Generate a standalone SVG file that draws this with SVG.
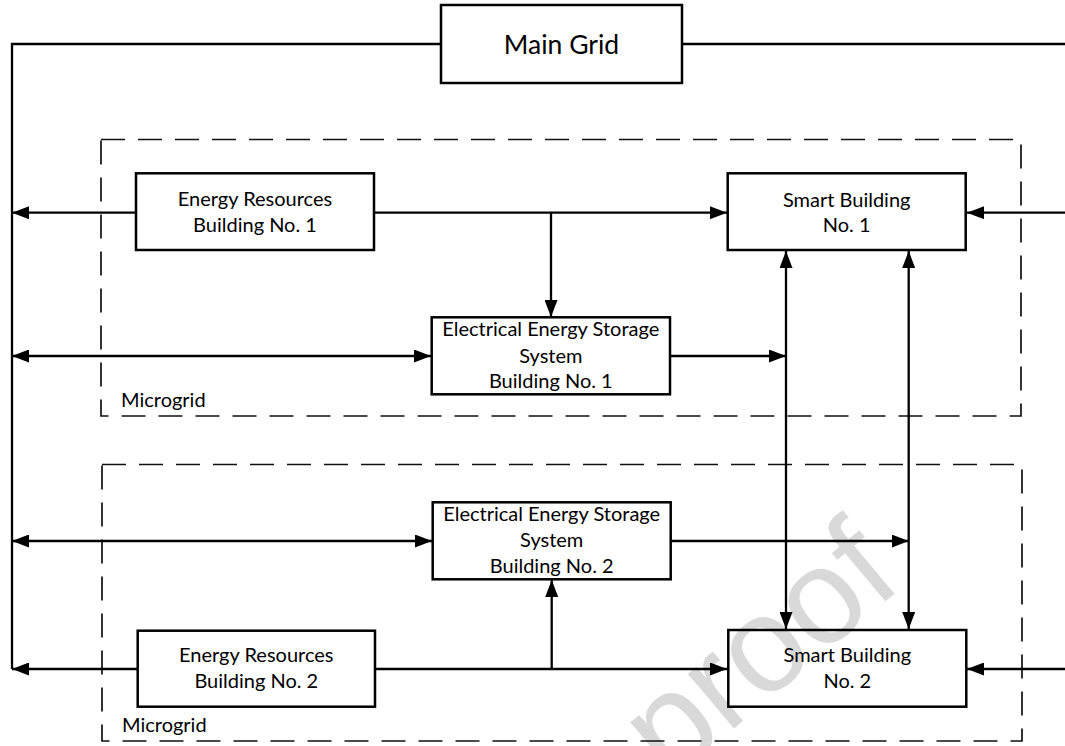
<svg xmlns="http://www.w3.org/2000/svg" width="1065" height="746" viewBox="0 0 1065 746">
  <defs>
    <marker id="ah" viewBox="0 0 17 13" refX="17" refY="6.5" markerWidth="17" markerHeight="13" markerUnits="userSpaceOnUse" orient="auto-start-reverse">
      <path d="M0,0 L17,6.5 L0,13 Z" fill="#000"/>
    </marker>
    <style>
      .box { fill: none; stroke: #000; stroke-width: 2.5; }
      .dash { fill: none; stroke: #111; stroke-width: 1.7; stroke-dasharray: 24 13; }
      .ln { fill: none; stroke: #000; stroke-width: 2.3; }
      .arr { marker-end: url(#ah); }
      .dbl { marker-start: url(#ah); marker-end: url(#ah); }
      .t { font-family: Lato, "Liberation Sans", sans-serif; font-size: 20px; fill: #000; text-anchor: middle; }
      .lbl { font-family: Lato, "Liberation Sans", sans-serif; font-size: 20px; fill: #000; }
      .wm { font-family: "Liberation Sans", sans-serif; font-size: 135px; fill: #d9d9d9; }
    </style>
  </defs>
  <rect width="1065" height="746" fill="#fff"/>
  <text class="wm" transform="translate(905,585) rotate(-40)" text-anchor="end">proof</text>

  <g id="microgrid1">
    <rect class="dash" x="101" y="139.5" width="920" height="276.5"/>
    <text class="lbl" x="121" y="407">Microgrid</text>
  </g>
  <g id="microgrid2">
    <rect class="dash" x="102" y="464.5" width="920" height="276.5"/>
    <text class="lbl" x="122" y="732">Microgrid</text>
  </g>

  <g id="connectors">
    <path class="ln" d="M441,44 H12 V669"/>
    <path class="ln" d="M682,44 H1065"/>
    <path class="ln arr" d="M136,212.7 H12"/>
    <path class="ln arr" d="M374,212.7 H727"/>
    <path class="ln arr" d="M551,212.7 V317"/>
    <path class="ln dbl" d="M12,356 H431"/>
    <path class="ln arr" d="M670,356 H786"/>
    <path class="ln dbl" d="M786,251 V629"/>
    <path class="ln dbl" d="M908.7,251 V629"/>
    <path class="ln arr" d="M1065,212.7 H967"/>
    <path class="ln dbl" d="M12,541 H432"/>
    <path class="ln arr" d="M671,541 H908.7"/>
    <path class="ln arr" d="M138,669 H12"/>
    <path class="ln arr" d="M375,669 H727"/>
    <path class="ln arr" d="M551.7,669 V580"/>
    <path class="ln arr" d="M1065,669 H967"/>
  </g>

  <g id="main-grid">
    <rect class="box" x="441" y="5" width="241" height="78"/>
    <text class="t" x="561.5" y="54" style="font-size:26.5px">Main Grid</text>
  </g>
  <g id="energy-resources-1">
    <rect class="box" x="136" y="173.3" width="238" height="76.7"/>
    <text class="t" x="255" y="206">Energy Resources</text>
    <text class="t" x="255" y="231.7">Building No. 1</text>
  </g>
  <g id="smart-building-1">
    <rect class="box" x="727.7" y="173.3" width="238" height="76.7"/>
    <text class="t" x="846.7" y="207">Smart Building</text>
    <text class="t" x="846.7" y="232">No. 1</text>
  </g>
  <g id="ess-1">
    <rect class="box" x="431.7" y="317.3" width="238.3" height="77"/>
    <text class="t" x="550.8" y="335.7">Electrical Energy Storage</text>
    <text class="t" x="550.8" y="362.7">System</text>
    <text class="t" x="550.8" y="388.3">Building No. 1</text>
  </g>
  <g id="ess-2">
    <rect class="box" x="432.7" y="502.3" width="238" height="77"/>
    <text class="t" x="551.7" y="520.7">Electrical Energy Storage</text>
    <text class="t" x="551.7" y="547.3">System</text>
    <text class="t" x="551.7" y="573.3">Building No. 2</text>
  </g>
  <g id="energy-resources-2">
    <rect class="box" x="137.7" y="630.7" width="237.3" height="76"/>
    <text class="t" x="256.3" y="662.3">Energy Resources</text>
    <text class="t" x="256.3" y="688.3">Building No. 2</text>
  </g>
  <g id="smart-building-2">
    <rect class="box" x="728.3" y="630" width="238" height="76.7"/>
    <text class="t" x="847.3" y="662">Smart Building</text>
    <text class="t" x="847.3" y="688">No. 2</text>
  </g>
</svg>
